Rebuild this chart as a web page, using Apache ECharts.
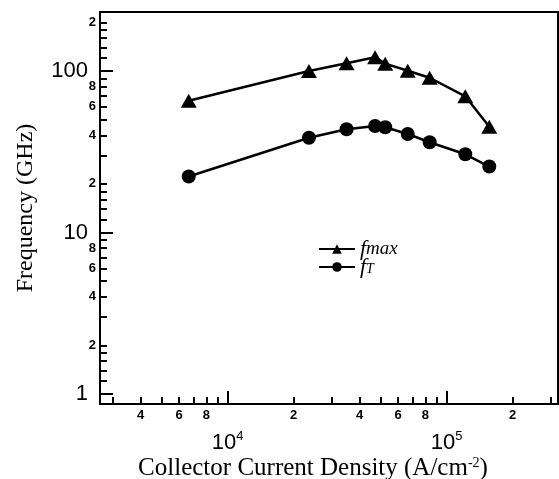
<!DOCTYPE html>
<html lang="en">
<head>
    <meta charset="UTF-8">
    <title>fT and fmax vs collector current density</title>
    <script src="https://cdn.jsdelivr.net/npm/echarts@6/dist/echarts.min.js"></script>
    <style>
        html, body { margin: 0; padding: 0; background: #fff; }
        #chart { width: 559px; height: 479px; }
    </style>
</head>
<body>
<div id="chart"></div>
<script>
    // collector current density (A/cm^2)
    const jc = [6640, 23500, 34900, 47100, 52400, 66400, 83600, 121600, 156500];
    const fmax = [65.4, 100, 111.6, 121.6, 111, 100.4, 90.8, 69.7, 45.2];
    const fT = [22.2, 38.6, 43.6, 45.6, 44.8, 40.7, 36.2, 30.5, 25.6];

    const xRange = [2612, 322300];
    const yRange = [0.867, 231.9];

    const xMajorTicks = [1e4, 1e5];
    const xMinorTicks = [3000, 4000, 5000, 6000, 7000, 8000, 9000,
        20000, 30000, 40000, 50000, 60000, 70000, 80000, 90000, 200000, 300000];
    const xMinorLabels = [4000, 6000, 8000, 20000, 40000, 60000, 80000, 200000];

    const yMajorTicks = [1, 10, 100];
    const yMinorTicks = [1.2, 1.4, 1.6, 1.8, 2, 3, 4, 5, 6, 7, 8, 9,
        12, 14, 16, 18, 20, 30, 40, 50, 60, 70, 80, 90, 120, 140, 160, 180, 200];
    const yMinorLabels = [2, 4, 6, 8, 20, 40, 60, 80, 200];

    const sans = 'Liberation Sans';
    const serif = 'Liberation Serif';

    function leadDigit(v) {
        return String(Math.round(v / Math.pow(10, Math.floor(Math.log10(v) + 1e-9))));
    }

    let myChart = echarts.init(document.getElementById('chart'), null, {renderer: 'canvas'});

    function logAxis(range, extra) {
        return Object.assign({
            type: 'log',
            logBase: 10,
            min: range[0],
            max: range[1],
            splitLine: {show: false},
            minorTick: {show: false},
            nameMoveOverlap: false
        }, extra);
    }

    let option = {
        animation: false,
        backgroundColor: '#fff',
        grid: {
            left: 100, top: 12, width: 458, height: 392,
            outerBoundsMode: 'none',
            containLabel: false,
            show: true, borderColor: '#000', borderWidth: 2
        },
        legend: {
            orient: 'vertical',
            left: 318,
            top: 238,
            padding: 0,
            itemWidth: 36,
            itemHeight: 12,
            itemGap: -4,
            data: ['fmax', 'fT'],
            formatter: name => name === 'fmax' ? '{f|f}{m|max}' : '{f|f}{t|T}',
            textStyle: {
                color: '#000',
                lineHeight: 18,
                rich: {
                    f: {fontFamily: serif, fontStyle: 'italic', fontSize: 22, color: '#000', lineHeight: 18},
                    m: {fontFamily: serif, fontStyle: 'italic', fontSize: 19, color: '#000', lineHeight: 18, verticalAlign: 'bottom'},
                    t: {fontFamily: serif, fontStyle: 'italic', fontSize: 14, color: '#000', lineHeight: 18, verticalAlign: 'bottom'}
                }
            }
        },
        xAxis: [
            logAxis(xRange, {
                position: 'bottom',
                name: 'Collector Current Density (A/cm{s|-2})',
                nameLocation: 'middle',
                nameGap: 52,
                nameTextStyle: {
                    fontFamily: serif, fontSize: 25, color: '#000',
                    padding: [0, 32, 0, 0],
                    rich: {s: {fontFamily: serif, fontSize: 14, color: '#000', verticalAlign: 'top', lineHeight: 25}}
                },
                axisLine: {lineStyle: {color: '#000', width: 2}},
                axisTick: {inside: true, length: 13, lineStyle: {color: '#000', width: 2}, customValues: xMajorTicks},
                axisLabel: {
                    customValues: xMajorTicks,
                    margin: 26,
                    formatter: v => '{b|10}{s|' + Math.round(Math.log10(v)) + '}',
                    rich: {
                        b: {fontFamily: sans, fontSize: 22, color: '#000', lineHeight: 26},
                        s: {fontFamily: sans, fontSize: 13, color: '#000', verticalAlign: 'top', lineHeight: 26}
                    }
                }
            }),
            logAxis(xRange, {
                position: 'bottom',
                axisLine: {show: false},
                axisTick: {inside: true, length: 7, lineStyle: {color: '#000', width: 2}, customValues: xMinorTicks},
                axisLabel: {
                    customValues: xMinorLabels,
                    margin: 5,
                    formatter: leadDigit,
                    fontFamily: sans, fontSize: 13, fontWeight: 'bold', color: '#000'
                }
            })
        ],
        yAxis: [
            logAxis(yRange, {
                position: 'left',
                name: 'Frequency (GHz)',
                nameLocation: 'middle',
                nameGap: 62,
                nameTextStyle: {fontFamily: serif, fontSize: 24, color: '#000'},
                axisLine: {lineStyle: {color: '#000', width: 2}},
                axisTick: {inside: true, length: 13, lineStyle: {color: '#000', width: 2}, customValues: yMajorTicks},
                axisLabel: {
                    customValues: yMajorTicks,
                    margin: 12,
                    formatter: v => String(v),
                    fontFamily: sans, fontSize: 22, color: '#000'
                }
            }),
            logAxis(yRange, {
                position: 'left',
                axisLine: {show: false},
                axisTick: {inside: true, length: 7, lineStyle: {color: '#000', width: 2}, customValues: yMinorTicks},
                axisLabel: {
                    customValues: yMinorLabels,
                    margin: 4,
                    formatter: leadDigit,
                    fontFamily: sans, fontSize: 13, fontWeight: 'bold', color: '#000'
                }
            })
        ],
        series: [
            {
                name: 'fmax',
                type: 'line',
                data: jc.map((x, i) => [x, fmax[i]]),
                symbol: 'triangle',
                symbolSize: [16, 14],
                itemStyle: {color: '#000'},
                lineStyle: {color: '#000', width: 2.5}
            },
            {
                name: 'fT',
                type: 'line',
                data: jc.map((x, i) => [x, fT[i]]),
                symbol: 'circle',
                symbolSize: 14,
                itemStyle: {color: '#000'},
                lineStyle: {color: '#000', width: 2.5}
            }
        ]
    };
    myChart.setOption(option);
</script>
</body>
</html>
